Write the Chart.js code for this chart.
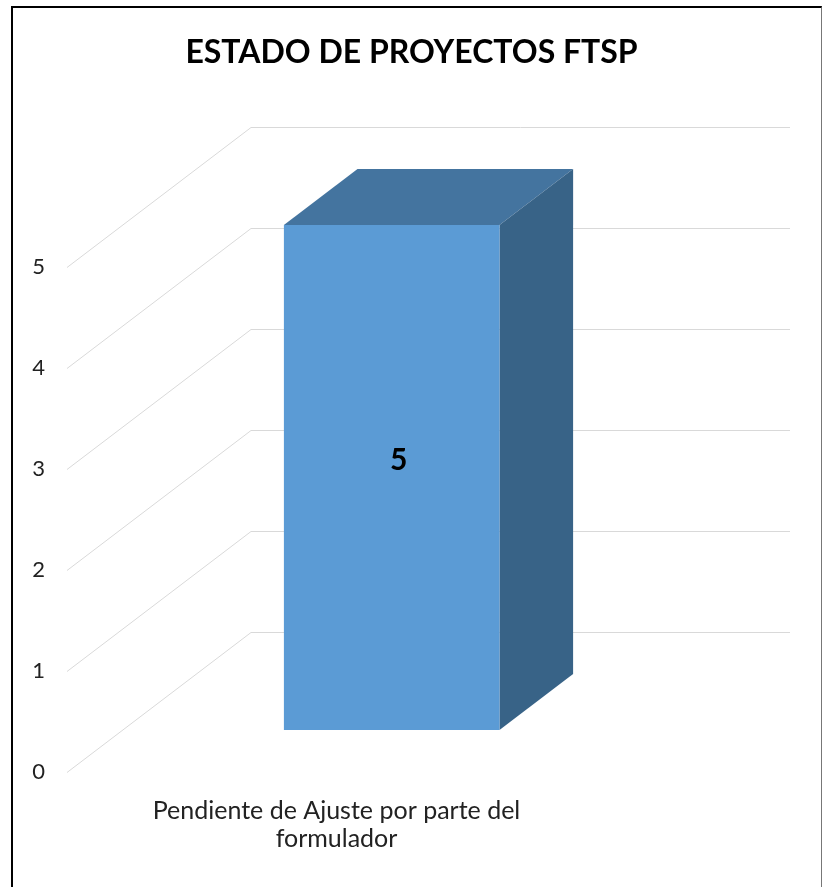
<!DOCTYPE html>
<html>
<head>
<meta charset="utf-8">
<script src="https://cdn.jsdelivr.net/npm/chart.js@4/dist/chart.umd.min.js"></script>
<style>
  html, body { margin: 0; padding: 0; background: #fff; }
  #wrap { position: relative; width: 823px; height: 887px; overflow: hidden; }
  #frame {
    position: absolute; left: 11px; top: 6px; width: 808px; height: 900px;
    border-left: 2px solid #000; border-top: 2px solid #000; border-right: 1px solid #777;
    pointer-events: none;
  }
</style>
</head>
<body>
<div id="wrap">
  <canvas id="chart" width="823" height="887"></canvas>
  <div id="frame"></div>
</div>
<script>
// datos
const categorias = [['Pendiente de Ajuste por parte del', 'formulador']];
const valores = [5];
const ticksY = [0, 1, 2, 3, 4, 5];
const titulo = 'ESTADO DE PROYECTOS FTSP';

// profundidad de la vista 3D (pixeles) y colores
const DEPTH = { x: 184, y: -140 };
const FRONT = 0.3, BACK = 0.7;
const colFrente = '#5B9BD5';
const colArriba = '#44749F';
const colLado = '#386387';
const colGrid = '#d9d9d9';

const bar3d = {
  id: 'bar3d',
  beforeDatasetsDraw(chart) {
    const { ctx, chartArea, scales } = chart;
    const y = scales.y;
    ctx.save();
    ctx.strokeStyle = colGrid;
    ctx.lineWidth = 1;
    ticksY.forEach(v => {
      const py = Math.round(y.getPixelForValue(v)) + 0.5;
      ctx.beginPath();
      ctx.moveTo(chartArea.left, py);
      ctx.lineTo(chartArea.left + DEPTH.x, py + DEPTH.y);
      ctx.lineTo(chartArea.right + DEPTH.x, py + DEPTH.y);
      ctx.stroke();
    });
    ctx.restore();
  },
  afterDatasetsDraw(chart) {
    const { ctx } = chart;
    const meta = chart.getDatasetMeta(0);
    meta.data.forEach((el, i) => {
      const l = el.x - el.width / 2, r = el.x + el.width / 2;
      const t = el.y, b = el.base;
      const fx = DEPTH.x * FRONT, fy = DEPTH.y * FRONT;
      const bx = DEPTH.x * BACK, by = DEPTH.y * BACK;
      ctx.save();
      // cara superior
      ctx.fillStyle = colArriba;
      ctx.beginPath();
      ctx.moveTo(l + fx, t + fy);
      ctx.lineTo(r + fx, t + fy);
      ctx.lineTo(r + bx, t + by);
      ctx.lineTo(l + bx, t + by);
      ctx.closePath();
      ctx.fill();
      // cara lateral
      ctx.fillStyle = colLado;
      ctx.beginPath();
      ctx.moveTo(r + fx, t + fy);
      ctx.lineTo(r + bx, t + by);
      ctx.lineTo(r + bx, b + by);
      ctx.lineTo(r + fx, b + fy);
      ctx.closePath();
      ctx.fill();
      // cara frontal
      ctx.fillStyle = colFrente;
      ctx.fillRect(l + fx, t + fy, r - l, b - t);
      // etiqueta de dato
      ctx.fillStyle = '#000';
      ctx.font = 'bold 30px Lato';
      ctx.textAlign = 'center';
      ctx.textBaseline = 'middle';
      ctx.fillText(String(valores[i]), el.x + fx + 7, (t + b) / 2 + fy - 17);
      ctx.restore();
    });
  }
};

new Chart(document.getElementById('chart'), {
  type: 'bar',
  data: {
    labels: categorias,
    datasets: [{
      label: 'Proyectos',
      data: valores,
      backgroundColor: 'rgba(0,0,0,0)',
      borderWidth: 0,
      categoryPercentage: 1,
      barPercentage: 0.4,
    }],
  },
  options: {
    responsive: false,
    animation: false,
    layout: { padding: 0 },
    scales: {
      x: {
        grid: { display: false, drawTicks: false },
        border: { display: false },
        ticks: {
          color: '#222',
          font: { family: 'Lato', size: 25, lineHeight: 1.12 },
          padding: 25,
          maxRotation: 0,
          autoSkip: false,
        },
        afterFit(scale) { scale.height = 115; },
      },
      y: {
        min: 0,
        max: 5,
        grid: { display: false, drawTicks: false },
        border: { display: false },
        ticks: {
          stepSize: 1,
          color: '#222',
          font: { family: 'Lato', size: 22 },
          padding: 22,
        },
        afterFit(scale) { scale.width = 67; },
      },
      // eje vacio a la derecha para dejar sitio a la pared del fondo
      fondo: {
        position: 'right',
        min: 0,
        max: 5,
        grid: { display: false, drawTicks: false },
        border: { display: false },
        ticks: { display: false },
        afterFit(scale) { scale.width = 217; },
      },
    },
    plugins: {
      legend: { display: false },
      tooltip: { enabled: false },
      title: {
        display: true,
        text: titulo,
        color: '#000',
        font: { family: 'Lato', size: 32, weight: 'bold', lineHeight: 1.2 },
        padding: { top: 33, bottom: 195.6 },
      },
    },
  },
  plugins: [bar3d],
});
</script>
</body>
</html>
